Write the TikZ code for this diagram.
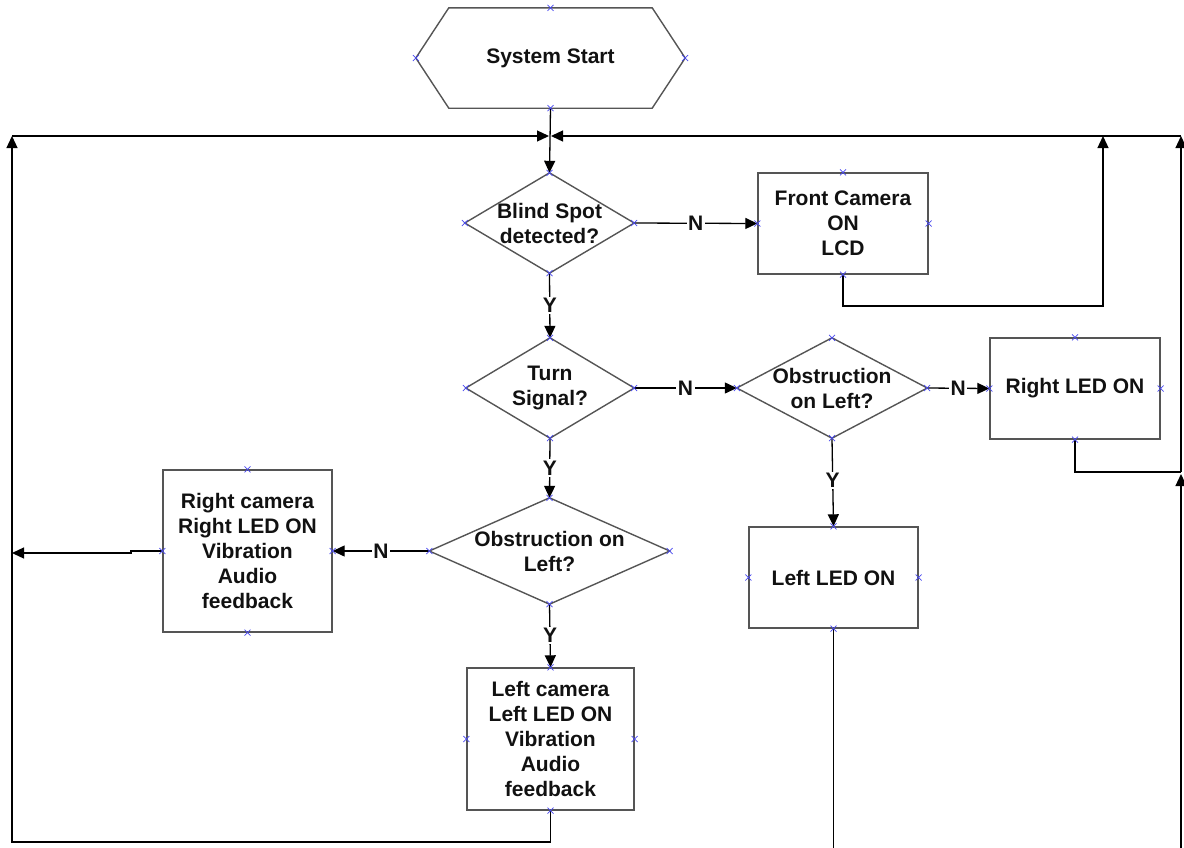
\documentclass[tikz,border=0pt]{standalone}
\usepackage{fontspec}
\setmainfont{Liberation Sans}
\usetikzlibrary{arrows.meta,calc}
\definecolor{shapecol}{HTML}{555555}
\definecolor{txt}{HTML}{111111}
\definecolor{cpcol}{HTML}{4A4AF0}
\begin{document}
\begin{tikzpicture}[x=1pt,y=-1pt,
  base/.style={inner sep=0pt, font=\bfseries\fontsize{21}{25}\selectfont, align=center, text=txt},
  box/.style={base, draw=shapecol, line width=1.4pt},
  dec/.style={base},
  shapeline/.style={draw=shapecol, line width=1.4pt, line join=miter},
  conn/.style={line width=1.3pt, draw=black},
  arr/.style={conn, -{Triangle[length=12pt,width=11pt]}},
  lbl/.style={fill=white, inner sep=1.5pt, text=txt, font=\bfseries\fontsize{21}{25}\selectfont},
  cp/.pic={\draw[cpcol, line width=0.7pt] (-3,-3)--(3,3) (-3,3)--(3,-3);}
]
\useasboundingbox (0,0) rectangle (1184,847);

% nodes
\node[dec, minimum width=269, minimum height=100] (start) at (550.5,58) {System Start};
\node[dec, minimum width=169, minimum height=100] (d1) at (549.5,223) {Blind Spot\\detected?};
\node[box, minimum width=170, minimum height=101] (cam) at (843,223.5) {Front Camera\\ON\\LCD};
\node[dec, minimum width=168, minimum height=100] (d2) at (550,388) {Turn\\Signal?};
\node[dec, minimum width=190, minimum height=100] (d3) at (832,388) {Obstruction\\on Left?};
\node[box, minimum width=170, minimum height=101] (rled) at (1075,388.5) {Right LED ON};
\node[dec, minimum width=240, minimum height=106] (d4) at (549.5,551) {Obstruction on\\Left?};
\node[box, minimum width=169, minimum height=162] (rcam) at (247.5,551) {Right camera\\Right LED ON\\Vibration\\Audio\\feedback};
\node[box, minimum width=167, minimum height=142] (lcam) at (550.5,739) {Left camera\\Left LED ON\\Vibration\\Audio\\feedback};
\node[box, minimum width=169, minimum height=101] (lled) at (833.5,577.5) {Left LED ON};

% outlines of hexagon and diamonds
\draw[shapeline] (start.west) -- ([xshift=33]start.north west) -- ([xshift=-33]start.north east)
  -- (start.east) -- ([xshift=-33]start.south east) -- ([xshift=33]start.south west) -- cycle;
\foreach \d in {d1,d2,d3,d4}{
  \draw[shapeline] (\d.north) -- (\d.east) -- (\d.south) -- (\d.west) -- cycle;
}

% coordinates for loop lines
\coordinate (jl) at (549,136);
\coordinate (jr) at (551,136);
\coordinate (tl) at (12,136);
\coordinate (bl) at (12,842);
\coordinate (tr) at (1181,136);
\coordinate (mr) at (1181,472);
\coordinate (br) at (1181,850);
\coordinate (camr) at (1103,136);
\coordinate (lledout) at (833.5,850);
\coordinate (rl) at (12,553);

% main connectors
\draw[arr] (start.south) -- (d1.north);
\draw[arr] (d1.east) -- node[lbl] (n1) {N} (cam.west);
\draw[arr] (d1.south) -- node[lbl] (y1) {Y} (d2.north);
\draw[arr] (d2.east) -- node[lbl] (n2) {N} (d3.west);
\draw[arr] (d3.east) -- node[lbl] (n3) {N} (rled.west);
\draw[arr] (d2.south) -- node[lbl] (y2) {Y} (d4.north);
\draw[arr] (d4.west) -- node[lbl] (n4) {N} (rcam.east);
\draw[arr] (d4.south) -- node[lbl] (y4) {Y} (lcam.north);
\draw[arr] (d3.south) -- node[lbl, pos=0.48] (y3) {Y} (lled.north);

% loop-back connectors
\draw[arr] (lcam.south) |- (bl) -- (tl);
\draw[arr] (tl) -- (jl);
\draw[arr] (rcam.west) -- (131,551) -- (131,553) -- (rl);
\draw[arr] (cam.south) |- (1103,306) -- (camr);
\draw[conn] (rled.south) |- (mr);
\draw[arr] (br) -- (1181,474);
\draw[arr] (mr) -- (tr);
\draw[arr] (tr) -- (jr);
\draw[conn] (lled.south) -- (lledout);

% connection points
\foreach \n in {start,d1,cam,d2,d3,rled,d4,rcam,lcam,lled}{
  \foreach \a in {north,south,east,west}{
    \path (\n.\a) pic {cp};
  }
}
\end{tikzpicture}
\end{document}
